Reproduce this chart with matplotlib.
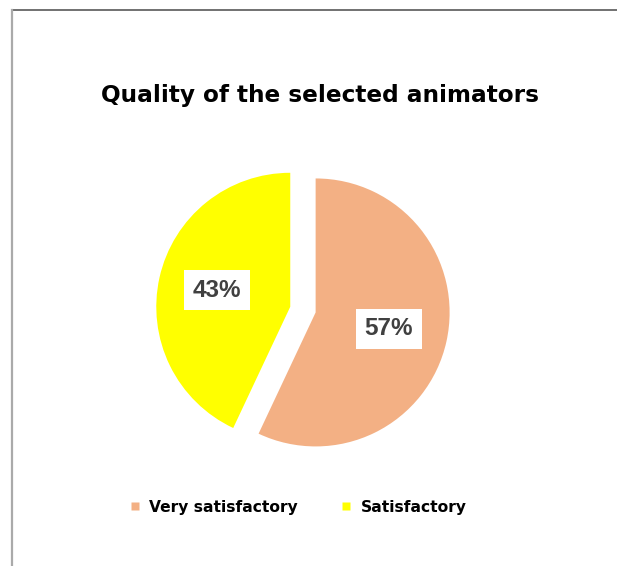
import matplotlib
matplotlib.use("Agg")
import matplotlib.pyplot as plt
from matplotlib.lines import Line2D

labels = ["Very satisfactory", "Satisfactory"]
values = [57, 43]
colors = ["#F3B084", "#FFFF00"]

plt.rcParams["font.family"] = ["DejaVu Sans"]

fig = plt.figure(figsize=(6.17, 5.66), dpi=100)

# frame lines (top and left) as in the source screenshot
fig.add_artist(Line2D([11.5 / 617, 1], [1 - 10 / 566, 1 - 10 / 566], color="#666666", lw=1.3))
fig.add_artist(Line2D([11.5 / 617, 11.5 / 617], [0, 1 - 10 / 566], color="#aaaaaa", lw=1.6))

fig.text(0.518, 0.832, "Quality of the selected animators", ha="center", va="center",
         fontsize=16.7, fontweight="bold", color="black")

ax = fig.add_axes([0.248, 0.188, 0.486, 0.530])
wedges, texts, autotexts = ax.pie(
    values, colors=colors, startangle=90, counterclock=False,
    explode=[0.097, 0.097], autopct="%d%%", pctdistance=0.56,
    textprops=dict(fontsize=16, fontweight="bold", color="#404040",
                   family=["Liberation Sans"]),
)
for t in autotexts:
    t.set_bbox(dict(boxstyle="square,pad=0.35", facecolor="white", edgecolor="none"))
    t.set_fontsize(17.5)
ax.set_xlim(-1.119, 1.119)
ax.set_ylim(-1.119, 1.119)
ax.set_aspect("equal")
ax.axis("off")

handles = [Line2D([], [], marker="s", linestyle="none", markersize=6,
                  markerfacecolor=c, markeredgecolor="none") for c in colors]
fig.legend(handles, labels, loc="center", bbox_to_anchor=(0.484, 0.104), ncol=2,
           frameon=False, prop=dict(size=11.2, weight="bold"),
           handlelength=0.6, handletextpad=0.6, columnspacing=2.8)

fig.savefig("out.png", dpi=100)
